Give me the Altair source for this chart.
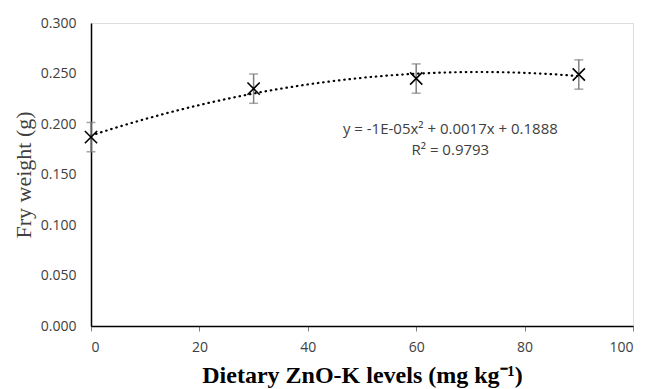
import altair as alt
import pandas as pd

# data
levels = [0, 30, 60, 90]
fry_weight = [0.187, 0.235, 0.245, 0.249]
err = [0.0145, 0.0145, 0.0145, 0.0145]

eq_lines = ["y = -1E-05x² + 0.0017x + 0.1888", "R² = 0.9793"]
eq_x = [66.3, 66.3]
eq_y = [0.1952, 0.1745]

df = pd.DataFrame({"x": levels, "y": fry_weight, "e": err})
df["lo"] = df["y"] - df["e"]
df["hi"] = df["y"] + df["e"]
eq_df = pd.DataFrame({"t": eq_lines, "x": eq_x, "y": eq_y})

TICK_FONT = "Open Sans"
x_scale = alt.Scale(domain=[0, 100], nice=False, zero=False)
y_scale = alt.Scale(domain=[0, 0.3], nice=False)

x_axis = alt.Axis(
    values=[0, 20, 40, 60, 80, 100], grid=False, domain=True,
    domainColor="#000000", domainWidth=1.5, tickColor="#7f7f7f", tickSize=5,
    labelFont=TICK_FONT, labelFontSize=14, labelColor="#404040", labelPadding=9,
    title="Dietary ZnO-K levels (mg kg⁻¹)", titleFont="Liberation Serif",
    titleFontSize=24, titleFontWeight="bold", titleColor="#000000", titlePadding=9,
)
y_axis = alt.Axis(
    values=[0, 0.05, 0.1, 0.15, 0.2, 0.25, 0.3], format=".3f", grid=False,
    domain=True, domainColor="#000000", domainWidth=1.5, ticks=False,
    labelFont=TICK_FONT, labelFontSize=14, labelColor="#404040", labelPadding=15,
    title="Fry weight (g)", titleFont="Liberation Serif", titleFontSize=22,
    titleFontWeight="normal", titleColor="#404040", titlePadding=5,
)

base = alt.Chart(df)

trend = base.transform_regression(
    "x", "y", method="poly", order=2, extent=[0, 90]
).mark_line(
    color="#000000", strokeWidth=2.2, strokeDash=[0.5, 4.8], strokeCap="round"
).encode(
    x=alt.X("x:Q", scale=x_scale, axis=x_axis),
    y=alt.Y("y:Q", scale=y_scale, axis=y_axis),
)

bars = base.mark_rule(color="#7f7f7f", strokeWidth=1.5).encode(
    x="x:Q", y="lo:Q", y2="hi:Q"
)
cap_lo = base.mark_tick(color="#7f7f7f", thickness=1.5, size=9, orient="horizontal").encode(
    x="x:Q", y="lo:Q"
)
cap_hi = base.mark_tick(color="#7f7f7f", thickness=1.5, size=9, orient="horizontal").encode(
    x="x:Q", y="hi:Q"
)
pts = base.mark_point(
    shape="M-1,-1L1,1M-1,1L1,-1", size=150, filled=False,
    color="#000000", strokeWidth=1.6, opacity=1,
).encode(x="x:Q", y="y:Q")

eq = alt.Chart(eq_df).mark_text(
    font=TICK_FONT, fontSize=15, color="#404040", align="center", baseline="middle"
).encode(x="x:Q", y="y:Q", text="t:N")

chart = alt.layer(trend, bars, cap_lo, cap_hi, pts, eq).properties(
    width=542, height=303,
    autosize=alt.AutoSizeParams(type="none"),
    padding={"left": 83, "top": 15, "right": 7, "bottom": 63},
).configure_view(stroke=None).configure(background="#ffffff")

chart.save("out.html", embed_options={"renderer": "svg", "actions": False})
